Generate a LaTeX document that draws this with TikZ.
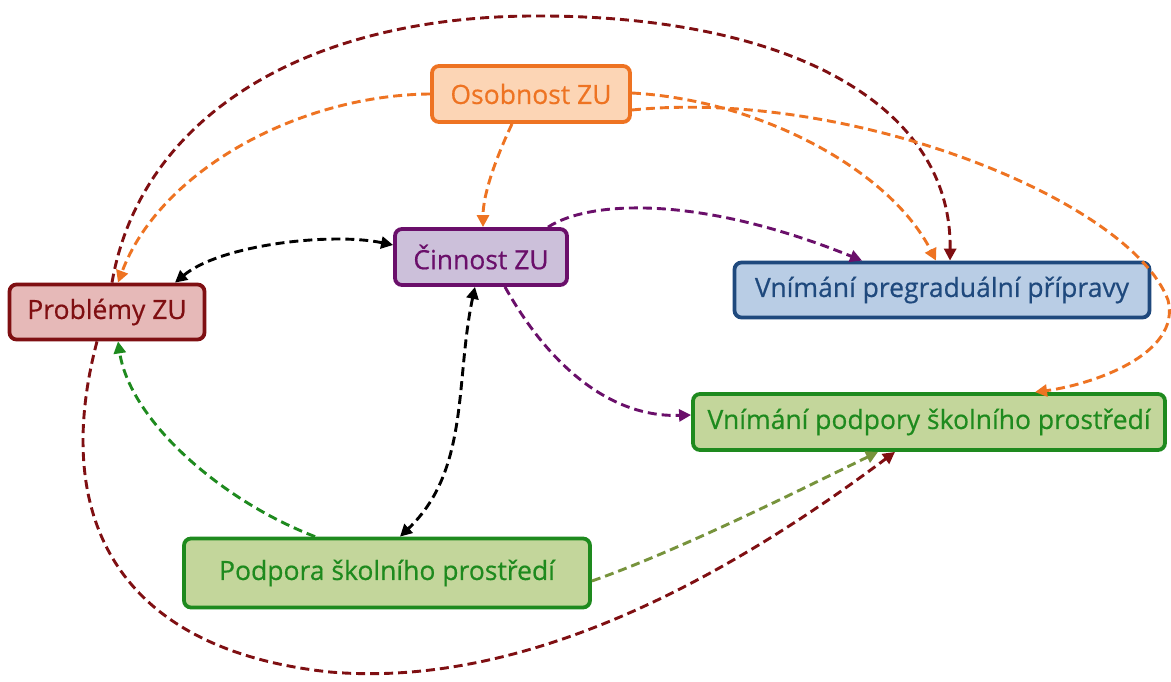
\documentclass[tikz,border=0pt]{standalone}
\usepackage{fontspec}
\setmainfont{Open Sans}
\newfontfamily\lblfont{Open Sans}[FakeBold=0.5]
\usetikzlibrary{arrows.meta}
\definecolor{orgB}{HTML}{EE7322}
\definecolor{orgF}{HTML}{FCD5B5}
\definecolor{redB}{HTML}{7F0F12}
\definecolor{redF}{HTML}{E6B9B8}
\definecolor{purB}{HTML}{6A0F6A}
\definecolor{purF}{HTML}{CCC0DA}
\definecolor{bluB}{HTML}{1F497D}
\definecolor{bluF}{HTML}{B9CDE5}
\definecolor{grnB}{HTML}{1E8A1E}
\definecolor{grnF}{HTML}{C3D69B}
\definecolor{oliv}{HTML}{77933C}
\tikzset{
  box/.style={draw, line width=3.8pt, rounded corners=7pt, font=\lblfont\fontsize{26.5}{31}\selectfont, inner sep=0pt},
  link/.style={line width=2.9pt, dash pattern=on 9pt off 5pt, -{Triangle[length=12pt,width=12pt]}},
  both/.style={link, {Triangle[length=12pt,width=12pt]}-{Triangle[length=12pt,width=12pt]}}
}
\begin{document}
\begin{tikzpicture}[x=1pt,y=-1pt]
\path[use as bounding box, fill=white] (0,0) rectangle (1171,681);

\node[box, draw=orgB, fill=orgF, text=orgB, minimum width=198pt, minimum height=56pt] (oso) at (531,94) {Osobnost ZU};
\node[box, draw=redB, fill=redF, text=redB, minimum width=195pt, minimum height=55pt] (prob) at (107,312) {Problémy ZU};
\node[box, draw=purB, fill=purF, text=purB, minimum width=172pt, minimum height=56pt] (cin) at (481,257) {Činnost ZU};
\node[box, draw=bluB, fill=bluF, text=bluB, minimum width=415pt, minimum height=55pt] (pre) at (942,290) {Vnímání pregraduální přípravy};
\node[box, draw=grnB, fill=grnF, text=grnB, minimum width=472pt, minimum height=56pt] (vps) at (929,422) {Vnímání podpory školního prostředí};
\node[box, draw=grnB, fill=grnF, text=grnB, minimum width=406pt, minimum height=69pt] (pod) at (387,573) {Podpora školního prostředí};

% connectors
\draw[link, redB] ([xshift=5pt]prob.north) .. controls (140,120) and (300,18) .. (530,16)
  .. controls (780,14) and (952,100) .. ([xshift=8pt]pre.north);
\draw[link, orgB] (oso.west) .. controls (300,95) and (160,170) .. ([xshift=11pt]prob.north);
\draw[link, orgB] ([xshift=-19pt]oso.south) .. controls (495,160) and (483,195) .. ([xshift=2pt]cin.north);
\draw[link, orgB] ([yshift=1pt]oso.east) .. controls (760,100) and (890,170) .. ([xshift=-6pt]pre.north);
\draw[link, orgB] ([yshift=-16pt]oso.east) .. controls (850,88) and (1130,200) .. (1168,300)
  .. controls (1182,355) and (1090,385) .. ([xshift=106pt]vps.north);
\draw[both] ([yshift=12pt]cin.west) .. controls (330,232) and (220,245) .. ([xshift=68pt]prob.north);
\draw[link, purB] ([xshift=67pt]cin.north) .. controls (590,200) and (700,195) .. ([xshift=-80pt]pre.north);
\draw[link, purB] ([xshift=24pt]cin.south) .. controls (540,350) and (600,418) .. ([yshift=7pt]vps.west);
\draw[both] ([xshift=-6pt]cin.south) .. controls (455,380) and (470,470) .. ([xshift=13pt]pod.north);
\draw[link, grnB] ([xshift=-72pt]pod.north) .. controls (220,500) and (130,420) .. ([xshift=11pt]prob.south);
\draw[link, oliv] ([yshift=-8pt]pod.east) .. controls (680,550) and (800,490) .. ([xshift=-51pt]vps.south);
\draw[link, redB] ([xshift=-10pt]prob.south) .. controls (50,520) and (120,650) .. (330,672)
  .. controls (540,690) and (750,560) .. ([xshift=-34pt]vps.south);
\end{tikzpicture}
\end{document}
